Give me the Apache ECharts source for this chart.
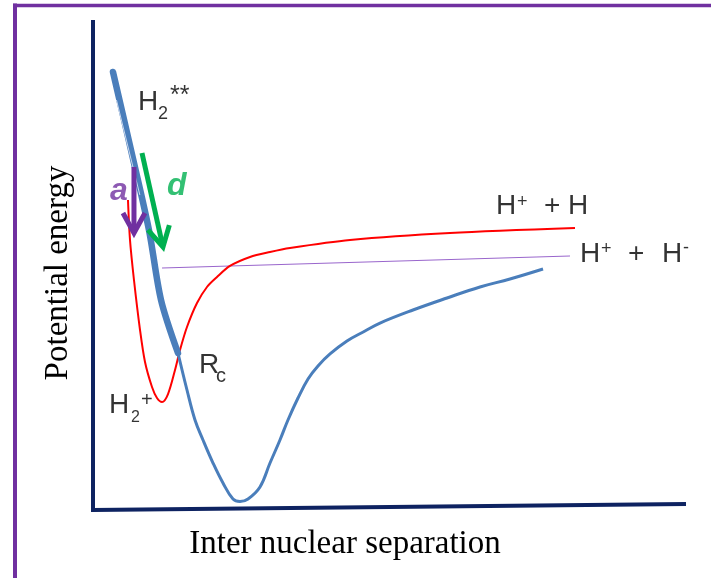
<!DOCTYPE html>
<html>
<head>
<meta charset="utf-8">
<script src="https://cdn.jsdelivr.net/npm/echarts@6/dist/echarts.min.js"></script>
<style>
html,body{margin:0;padding:0;background:#fff;}
#chart{width:711px;height:578px;}
</style>
</head>
<body>
<div id="chart"></div>
<script>
// ---- data (arbitrary units: x = internuclear separation 0..10, y = potential energy 0..10) ----
const axisFrame = [[0, 10], [0, 0], [10, 0.12]];
const repulsiveState = [[0.337, 8.939], [0.641, 7.347], [0.944, 5.714], [1.147, 4.286], [1.433, 3.204]];
const repulsiveHighlight = [[0.396, 8.367], [0.790, 6.429]];
const boundState = [
  [1.433, 3.204], [1.585, 2.449], [1.720, 1.837], [1.855, 1.429], [2.024, 0.959], [2.192, 0.551],
  [2.361, 0.224], [2.479, 0.173], [2.614, 0.224], [2.816, 0.469], [2.985, 0.959], [3.153, 1.429],
  [3.288, 1.837], [3.457, 2.286], [3.626, 2.673], [3.794, 2.939], [3.997, 3.184], [4.283, 3.449],
  [4.587, 3.653], [4.840, 3.816], [5.396, 4.082], [5.970, 4.327], [6.526, 4.551], [7.032, 4.714],
  [7.589, 4.918]
];
const ionCurve = [
  [0.590, 6.327], [0.624, 5.510], [0.691, 4.694], [0.793, 3.673], [0.877, 3.020], [0.995, 2.510],
  [1.079, 2.286], [1.164, 2.204], [1.265, 2.367], [1.383, 2.857], [1.467, 3.265], [1.585, 3.735],
  [1.754, 4.224], [1.922, 4.551], [2.091, 4.755], [2.310, 4.980], [2.648, 5.163], [2.985, 5.265],
  [3.322, 5.347], [4.334, 5.510], [6.020, 5.653], [8.128, 5.755]
];
const ionPairLine = [[1.164, 4.939], [8.044, 5.184]];
const arrowA = [0.691, 7.0, 0.691, 5.653];
const arrowD = [0.826, 7.286, 1.180, 5.367];
const xTitle = 'Inter nuclear separation';
const yTitle = 'Potential energy';
// annotation fragments: text, x, y (baseline-left), size, kind
const labels = [
  ['H', 0.759, 8.122, 28, 'n'], ['2', 1.096, 7.959, 18, 'n'], ['**', 1.298, 8.265, 25, 'n'],
  ['a', 0.287, 6.286, 32, 'a'], ['d', 1.248, 6.388, 32, 'd'],
  ['H', 6.796, 6.0, 28, 'n'], ['+', 7.150, 6.153, 18, 'n'], ['+ H', 7.605, 6.0, 28, 'n'],
  ['H', 8.212, 5.020, 28, 'n'], ['+', 8.567, 5.194, 18, 'n'], ['+', 9.022, 5.020, 28, 'n'],
  ['H', 9.595, 5.020, 28, 'n'], ['-', 9.949, 5.214, 18, 'n'],
  ['R', 1.788, 2.755, 28, 'n'], ['c', 2.074, 2.592, 20, 'n'],
  ['H', 0.270, 1.939, 28, 'n'], ['2', 0.641, 1.776, 16, 'n'], ['+', 0.809, 2.092, 20, 'n']
];

const BLUE = '#4A7EBB', RED = '#FF0000', NAVY = '#0E2361', PURPLE = '#7030A0', GREEN = '#00B050';
const labelColor = {n: '#000000', a: PURPLE, d: GREEN};

const chart = echarts.init(document.getElementById('chart'), null, {renderer: 'canvas', width: 711, height: 578});

function arrowRender(params, api) {
  const p0 = api.coord([api.value(0), api.value(1)]);
  const p1 = api.coord([api.value(2), api.value(3)]);
  const dx = p1[0] - p0[0], dy = p1[1] - p0[1];
  const len = Math.hypot(dx, dy);
  const ux = dx / len, uy = dy / len, nx = -uy, ny = ux;
  const back = 20, half = 11;
  const wa = [p1[0] - ux * back + nx * half, p1[1] - uy * back + ny * half];
  const wb = [p1[0] - ux * back - nx * half, p1[1] - uy * back - ny * half];
  const color = api.visual('color');
  return {
    type: 'group',
    children: [
      {type: 'polyline', shape: {points: [p0, [p1[0] - ux * 2, p1[1] - uy * 2]]}, style: {stroke: color, lineWidth: 5, fill: null}},
      {type: 'polyline', shape: {points: [wa, p1, wb]}, style: {stroke: color, lineWidth: 5, fill: null, lineJoin: 'miter'}}
    ]
  };
}

const option = {
  backgroundColor: '#ffffff',
  animation: false,
  grid: {left: 93, right: 25, top: 20, bottom: 68},
  xAxis: {type: 'value', min: 0, max: 10, show: false},
  yAxis: {type: 'value', min: 0, max: 10, show: false},
  graphic: [
    {type: 'line', shape: {x1: 15, y1: 3.5, x2: 15, y2: 600}, style: {stroke: PURPLE, lineWidth: 4}},
    {type: 'line', shape: {x1: 13, y1: 5.5, x2: 720, y2: 5.5}, style: {stroke: PURPLE, lineWidth: 3.5}},
    {type: 'text', x: 58, y: 273, rotation: Math.PI / 2,
      style: {text: yTitle, font: '33px "Liberation Serif"', fill: '#000', align: 'center', verticalAlign: 'middle'}},
    {type: 'text', x: 345, y: 544,
      style: {text: xTitle, font: '33px "Liberation Serif"', fill: '#000', align: 'center', verticalAlign: 'middle'}}
  ],
  series: [
    {type: 'line', data: ionPairLine, showSymbol: false, silent: true, z: 2,
      lineStyle: {color: '#9966CC', width: 1.2}},
    {type: 'line', data: ionCurve, showSymbol: false, smooth: 0.3, silent: true, z: 3,
      lineStyle: {color: RED, width: 2}},
    {type: 'line', data: boundState, showSymbol: false, smooth: 0.4, silent: true, z: 3,
      lineStyle: {color: BLUE, width: 3}},
    {type: 'line', data: repulsiveState, showSymbol: false, smooth: 0.3, silent: true, z: 4,
      lineStyle: {color: BLUE, width: 6.5, cap: 'round'}},
    {type: 'line', data: repulsiveHighlight, showSymbol: false, silent: true, z: 4,
      lineStyle: {color: '#C9D8EE', width: 1}},
    {type: 'line', data: axisFrame, showSymbol: false, silent: true, z: 5,
      lineStyle: {color: NAVY, width: 4, join: 'miter', cap: 'butt'}},
    {type: 'custom', data: [arrowA], renderItem: arrowRender, itemStyle: {color: PURPLE}, silent: true, z: 6, clip: false},
    {type: 'custom', data: [arrowD], renderItem: arrowRender, itemStyle: {color: GREEN}, silent: true, z: 6, clip: false},
    {type: 'scatter', symbolSize: 0, silent: true, z: 7,
      data: labels.map(l => ({
        value: [l[1], l[2]],
        label: {
          show: true, position: [0, 0], align: 'left', verticalAlign: 'top',
          offset: [0, -0.8465 * l[3]],
          formatter: l[0], fontSize: l[3], lineHeight: l[3],
          fontFamily: '"Liberation Sans", Arial, sans-serif',
          fontStyle: l[4] === 'n' ? 'normal' : 'italic',
          fontWeight: l[4] === 'n' ? 'normal' : 'bold',
          color: labelColor[l[4]]
        }
      }))
    }
  ]
};
chart.setOption(option);
</script>
</body>
</html>
